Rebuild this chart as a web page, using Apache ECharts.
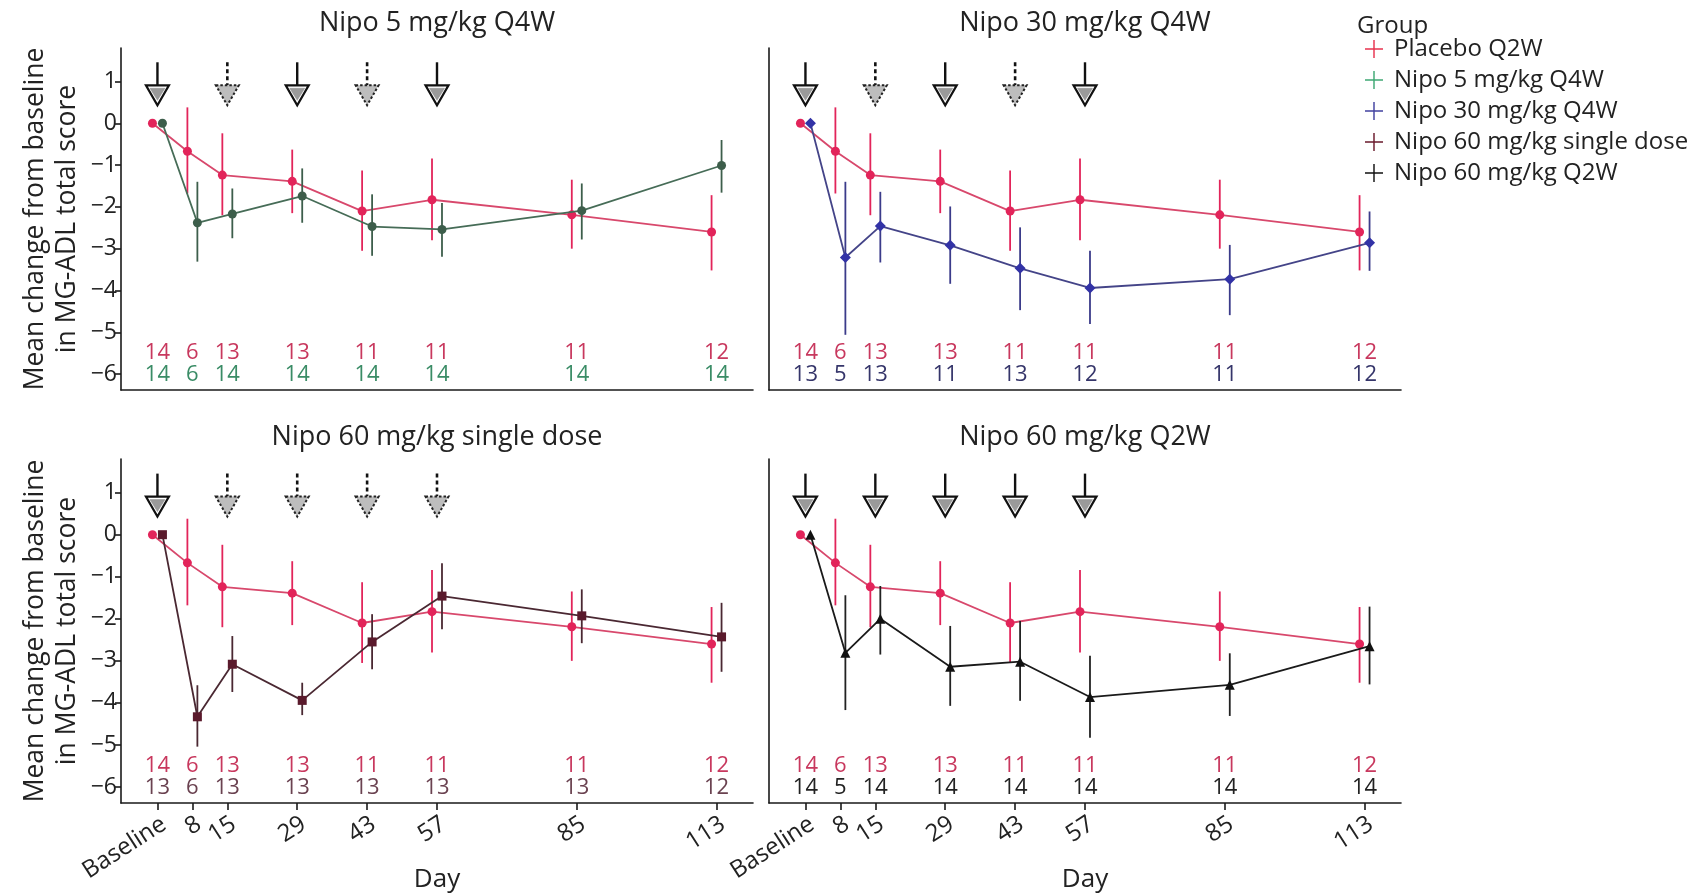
<!DOCTYPE html>
<html><head><meta charset="utf-8">
<script src="https://cdn.jsdelivr.net/npm/echarts@6/dist/echarts.min.js"></script>
<style>html,body{margin:0;padding:0;background:#fff}#c{width:1696px;height:894px}</style>
</head><body><div id="c"></div>
<script>
// ---------------- DATA ----------------
const days = [1, 8, 15, 29, 43, 57, 85, 113];
const dayLabels = ['Baseline', '8', '15', '29', '43', '57', '85', '113'];
const yTicks = [-6, -5, -4, -3, -2, -1, 0, 1];

const placeboMean = [0, -0.67, -1.24, -1.39, -2.10, -1.83, -2.19, -2.60];
const placeboLow  = [0, -1.68, -2.20, -2.15, -3.05, -2.80, -3.00, -3.52];
const placeboHigh = [0,  0.38, -0.24, -0.63, -1.13, -0.84, -1.35, -1.72];
const placeboN    = [14, 6, 13, 13, 11, 11, 11, 12];

const nipo5Mean = [0, -2.38, -2.17, -1.74, -2.47, -2.54, -2.09, -1.01];
const nipo5Low  = [0, -3.31, -2.75, -2.38, -3.17, -3.19, -2.78, -1.66];
const nipo5High = [0, -1.40, -1.56, -1.08, -1.70, -1.91, -1.44, -0.40];
const nipo5N    = [14, 6, 14, 14, 14, 14, 14, 14];

const nipo30Mean = [0, -3.21, -2.46, -2.92, -3.47, -3.94, -3.73, -2.86];
const nipo30Low  = [0, -5.06, -3.33, -3.84, -4.47, -4.80, -4.59, -3.53];
const nipo30High = [0, -1.40, -1.64, -1.99, -2.49, -3.05, -2.91, -2.11];
const nipo30N    = [13, 5, 13, 11, 13, 12, 11, 12];

const nipo60sMean = [0, -4.33, -3.08, -3.94, -2.55, -1.46, -1.93, -2.43];
const nipo60sLow  = [0, -5.04, -3.74, -4.29, -3.20, -2.25, -2.58, -3.26];
const nipo60sHigh = [0, -3.58, -2.41, -3.52, -1.89, -0.68, -1.30, -1.62];
const nipo60sN    = [13, 6, 13, 13, 13, 13, 13, 12];

const nipo60q2Mean = [0, -2.81, -2.00, -3.14, -3.02, -3.86, -3.57, -2.65];
const nipo60q2Low  = [0, -4.17, -2.85, -4.07, -3.95, -4.83, -4.31, -3.56];
const nipo60q2High = [0, -1.44, -1.22, -2.17, -2.05, -2.88, -2.82, -1.71];
const nipo60q2N    = [14, 5, 14, 14, 14, 14, 14, 14];

const doseDays = [1, 15, 29, 43, 57];
const doseQ4W    = [1, 0, 1, 0, 1];
const doseSingle = [1, 0, 0, 0, 0];
const doseQ2W    = [1, 1, 1, 1, 1];

const groupNames = ['Placebo Q2W', 'Nipo 5 mg/kg Q4W', 'Nipo 30 mg/kg Q4W', 'Nipo 60 mg/kg single dose', 'Nipo 60 mg/kg Q2W'];
const panelTitles = ['Nipo 5 mg/kg Q4W', 'Nipo 30 mg/kg Q4W', 'Nipo 60 mg/kg single dose', 'Nipo 60 mg/kg Q2W'];

// ---------------- LAYOUT / STYLE ----------------
const FONT = "'Open Sans', 'DejaVu Sans', sans-serif";
const AX = '#1a1a1a';
const grids = [
  {left: 121, top: 48, width: 632, height: 342, outerBoundsMode: 'none'},
  {left: 769, top: 48, width: 632, height: 342, outerBoundsMode: 'none'},
  {left: 121, top: 459, width: 632, height: 344, outerBoundsMode: 'none'},
  {left: 769, top: 459, width: 632, height: 344, outerBoundsMode: 'none'}
];
const X_MIN = -6.3, X_MAX = 120.3, Y_MIN = -6.38, Y_MAX = 1.8;
const DODGE = 1.0;
const PL_LEVEL = -5.5, TR_LEVEL = -6.02;
const ARROW_TIP = 0.43;

const placeboStyle = {marker: '#e2245a', line: '#d8486c', err: '#e2245a', text: '#c8385e', legend: '#e8334f', symbol: 'circle', size: 9};
const panels = [
  {name: groupNames[1], mean: nipo5Mean, low: nipo5Low, high: nipo5High, n: nipo5N, doses: doseQ4W,
   marker: '#3d5e4b', line: '#466c57', err: '#3d5e4b', text: '#3a8c66', legend: '#3fa874', symbol: 'circle', size: 9},
  {name: groupNames[2], mean: nipo30Mean, low: nipo30Low, high: nipo30High, n: nipo30N, doses: doseQ4W,
   marker: '#3232a6', line: '#444488', err: '#3b3b8a', text: '#35356a', legend: '#4242a0', symbol: 'diamond', size: 11},
  {name: groupNames[3], mean: nipo60sMean, low: nipo60sLow, high: nipo60sHigh, n: nipo60sN, doses: doseSingle,
   marker: '#5a1a2c', line: '#4a2832', err: '#4a2832', text: '#6a4250', legend: '#6a1a2c', symbol: 'rect', size: 9},
  {name: groupNames[4], mean: nipo60q2Mean, low: nipo60q2Low, high: nipo60q2High, n: nipo60q2N, doses: doseQ2W,
   marker: '#111111', line: '#1a1a1a', err: '#222222', text: '#222222', legend: '#111111', symbol: 'triangle', size: 10}
];

const xAxes = grids.map((g, i) => ({
  type: 'value', gridIndex: i, min: X_MIN, max: X_MAX,
  axisLine: {show: true, onZero: false, lineStyle: {color: AX, width: 1.6}},
  splitLine: {show: false},
  axisTick: {show: i >= 2, length: 7, customValues: days, lineStyle: {color: AX, width: 1.6}},
  axisLabel: {show: i >= 2, customValues: days, formatter: v => dayLabels[days.indexOf(v)],
    rotate: 33, fontSize: 24, fontFamily: FONT, color: '#222', margin: 9, verticalAlign: 'top', align: 'right'},
  name: i >= 2 ? 'Day' : '', nameLocation: 'middle', nameGap: 64, nameMoveOverlap: false,
  nameTextStyle: {fontSize: 26, fontFamily: FONT, color: '#222'}
}));
const yAxes = grids.map((g, i) => ({
  type: 'value', gridIndex: i, min: Y_MIN, max: Y_MAX,
  axisLine: {show: true, onZero: false, lineStyle: {color: AX, width: 1.6}},
  splitLine: {show: false},
  axisTick: {show: i % 2 === 0, length: 6, customValues: yTicks, lineStyle: {color: AX, width: 1.6}},
  axisLabel: {show: i % 2 === 0, customValues: yTicks,
    formatter: v => v < 0 ? '\u2212' + Math.abs(v) : String(v),
    fontSize: 23, fontFamily: FONT, color: '#222', margin: 4},
  name: i % 2 === 0 ? 'Mean change from baseline\nin MG-ADL total score' : '',
  nameLocation: 'middle', nameGap: 38,
  nameTextStyle: {fontSize: 26.5, lineHeight: 32, fontFamily: FONT, color: '#222', align: 'center'}
}));

function errRender(color) {
  return function (params, api) {
    const x = api.value(0);
    const a = api.coord([x, api.value(1)]);
    const b = api.coord([x, api.value(2)]);
    return {type: 'line', shape: {x1: a[0], y1: a[1], x2: b[0], y2: b[1]},
      style: {stroke: color, lineWidth: 1.8}};
  };
}
function countRender(color) {
  return function (params, api) {
    const p = api.coord([api.value(0), api.value(1)]);
    return {type: 'text', x: p[0], y: p[1],
      style: {text: String(api.value(2)), fill: color, font: '22px ' + FONT,
        align: 'center', verticalAlign: 'middle', textAlign: 'center', textVerticalAlign: 'middle'}};
  };
}
function arrowRender(params, api) {
  const p = api.coord([api.value(0), ARROW_TIP]);
  const active = api.value(1) === 1;
  const x = p[0], y = p[1];
  const children = [];
  if (active) {
    children.push({type: 'line', shape: {x1: x, y1: y - 43, x2: x, y2: y - 20}, style: {stroke: '#111', lineWidth: 2.4}});
    children.push({type: 'polygon', shape: {points: [[x - 11.5, y - 20], [x + 11.5, y - 20], [x, y]]},
      style: {fill: '#ffffff', stroke: '#111', lineWidth: 2.2}});
    children.push({type: 'polygon', shape: {points: [[x - 7.5, y - 17], [x + 7.5, y - 17], [x, y - 5]]},
      style: {fill: '#9a9a9a', stroke: '#8a8a8a', lineWidth: 0.5}});
  } else {
    children.push({type: 'line', shape: {x1: x, y1: y - 43, x2: x, y2: y - 20}, style: {stroke: '#111', lineWidth: 2.6, lineDash: [4, 3]}});
    children.push({type: 'polygon', shape: {points: [[x - 11.5, y - 20], [x + 11.5, y - 20], [x, y]]},
      style: {fill: '#bdbdbd', stroke: '#222', lineWidth: 2, lineDash: [2.5, 2]}});
  }
  return {type: 'group', children: children};
}

const series = [];
panels.forEach((pn, i) => {
  const ax = {xAxisIndex: i, yAxisIndex: i};
  series.push(Object.assign({type: 'custom', name: 'dose' + i, renderItem: arrowRender, silent: true, z: 2,
    encode: {x: 0}, data: doseDays.map((d, k) => [d, pn.doses[k]])}, ax));
  series.push(Object.assign({type: 'custom', name: groupNames[0], renderItem: errRender(placeboStyle.err), z: 3, silent: true,
    encode: {x: 0, y: [1, 2]}, data: days.map((d, k) => [d - DODGE, placeboLow[k], placeboHigh[k]])}, ax));
  series.push(Object.assign({type: 'custom', name: pn.name, renderItem: errRender(pn.err), z: 5, silent: true,
    encode: {x: 0, y: [1, 2]}, data: days.map((d, k) => [d + DODGE, pn.low[k], pn.high[k]])}, ax));
  series.push(Object.assign({type: 'line', name: groupNames[0], z: 4, symbol: placeboStyle.symbol, symbolSize: placeboStyle.size,
    itemStyle: {color: placeboStyle.marker}, lineStyle: {color: placeboStyle.line, width: 1.8},
    data: days.map((d, k) => [d - DODGE, placeboMean[k]])}, ax));
  series.push(Object.assign({type: 'line', name: pn.name, z: 6, symbol: pn.symbol, symbolSize: pn.size,
    itemStyle: {color: pn.marker}, lineStyle: {color: pn.line, width: 1.8},
    data: days.map((d, k) => [d + DODGE, pn.mean[k]])}, ax));
  series.push(Object.assign({type: 'custom', name: 'nPl' + i, renderItem: countRender(placeboStyle.text), silent: true, z: 7,
    encode: {x: 0, y: 1}, data: days.map((d, k) => [d, PL_LEVEL, placeboN[k]])}, ax));
  series.push(Object.assign({type: 'custom', name: 'nTr' + i, renderItem: countRender(pn.text), silent: true, z: 7,
    encode: {x: 0, y: 1}, data: days.map((d, k) => [d, TR_LEVEL, pn.n[k]])}, ax));
});

const plusIcon = 'path://M0,9.2L20,9.2L20,10.8L0,10.8Z M9.2,0L10.8,0L10.8,20L9.2,20Z';
const legendColors = [placeboStyle.legend].concat(panels.map(p => p.legend));

const titleCenters = [437, 1085, 437, 1085];
const titleTops = [10, 10, 424, 424];
const titles = panelTitles.map((t, i) => ({
  text: t, left: titleCenters[i], top: titleTops[i], textAlign: 'center', padding: 0,
  textStyle: {fontSize: 27, fontWeight: 'normal', fontFamily: FONT, color: '#222'}
}));
titles.push({text: 'Group', left: 1357, top: 14, padding: 0,
  textStyle: {fontSize: 24, fontWeight: 'normal', fontFamily: FONT, color: '#222'}});

const chart = echarts.init(document.getElementById('c'));
chart.setOption({
  animation: false,
  backgroundColor: '#ffffff',
  title: titles,
  grid: grids,
  xAxis: xAxes,
  yAxis: yAxes,
  legend: {
    orient: 'vertical', left: 1360, top: 32, itemWidth: 18, itemHeight: 20, itemGap: 7,
    selectedMode: false,
    textStyle: {fontSize: 24, fontFamily: FONT, color: '#222', padding: [0, 0, 0, 6]},
    data: groupNames.map((g, k) => ({name: g, icon: plusIcon, itemStyle: {color: legendColors[k], borderWidth: 0}}))
  },
  series: series
});
</script>
</body></html>
